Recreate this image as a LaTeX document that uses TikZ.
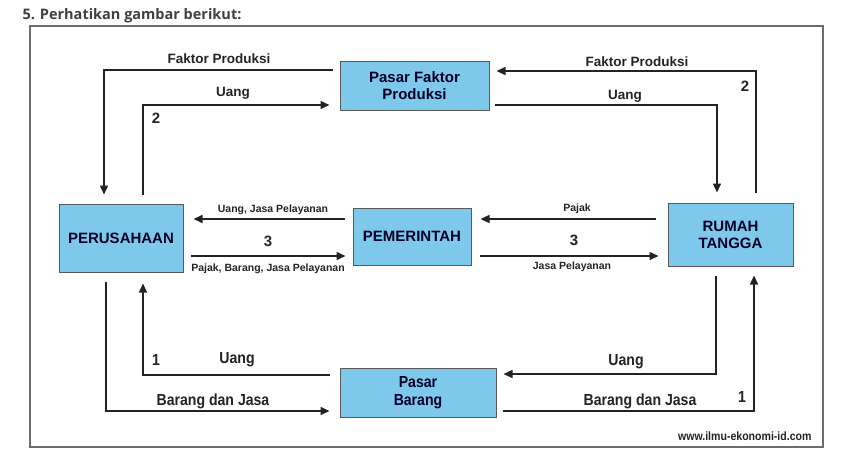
\documentclass[tikz,border=0pt]{standalone}
\usepackage{fontspec}
\setmainfont{Liberation Sans}
\newfontfamily\judul{Open Sans}
\newfontfamily\sempit{Liberation Sans}[FakeStretch=0.88]
\usetikzlibrary{arrows.meta}
\definecolor{biru}{RGB}{125,200,235}
\definecolor{garis}{RGB}{35,35,35}
\tikzset{
  kotak/.style={draw=gray!70!black, fill=biru, line width=1pt, align=center,
    font=\fontsize{15}{17}\selectfont\bfseries, text=black!85!blue},
  panah/.style={draw=garis, line width=1.5pt, -{Triangle[length=9pt,width=8pt]}},
  lbl/.style={font=\fontsize{13.5}{15}\selectfont\bfseries, text=garis},
  lblkecil/.style={font=\fontsize{10.5}{12}\selectfont\bfseries, text=garis},
  lblsempit/.style={font=\sempit\fontsize{16}{18}\selectfont\bfseries, text=garis},
  angka/.style={font=\fontsize{15}{17}\selectfont\bfseries, text=garis}
}

\begin{document}
\begin{tikzpicture}[x=1pt,y=-1pt]
    \useasboundingbox (0,0) rectangle (845,466);
    % judul dan bingkai
    \node[anchor=west, text=black!75, font=\judul\fontsize{14.5}{16}\selectfont\bfseries] (judul) at (19,16) {5. Perhatikan gambar berikut:};
    \draw[gray!85!black, line width=1.3pt] (30,26) rectangle (823,447);

    % kotak
    \node[kotak, minimum width=149, minimum height=49] (pfp) at (414.5,85.5) {Pasar Faktor\\Produksi};
    \node[kotak, minimum width=124, minimum height=68] (per) at (121,238) {PERUSAHAAN};
    \node[kotak, minimum width=118, minimum height=57] (pem) at (412,236.5) {PEMERINTAH};
    \node[kotak, minimum width=125, minimum height=63] (rt) at (730.5,234.5) {RUMAH\\TANGGA};
    \node[kotak, minimum width=156, minimum height=49, font=\sempit\fontsize{16}{18}\selectfont\bfseries] (pb) at (418,392.5) {Pasar\\Barang};

    % pasar faktor produksi
    \draw[panah] ([xshift=-7pt,yshift=15.5pt]pfp.west) -| ([xshift=-17pt,yshift=9pt]per.north);
    \draw[panah] ([xshift=22pt,yshift=9pt]per.north) |- ([xshift=-10pt,yshift=-19.5pt]pfp.west);
    \draw[panah] ([xshift=25.5pt,yshift=10pt]rt.north) |- ([xshift=7pt,yshift=14.5pt]pfp.east);
    \draw[panah] ([xshift=5pt,yshift=-19.5pt]pfp.east) -| ([xshift=-13.5pt,yshift=10pt]rt.north);
    \node[lbl] (fp1) at (219,59) {Faktor Produksi};
    \node[lbl] (u1) at (233,93) {Uang};
    \node[angka] (n2a) at (156,118) {2};
    \node[lbl] (fp2) at (637,62) {Faktor Produksi};
    \node[lbl] (u2) at (625,96) {Uang};
    \node[angka] (n2b) at (745,86) {2};

    % pemerintah
    \draw[panah] ([xshift=-8pt,yshift=17.5pt]pem.west) -- ([xshift=10pt,yshift=19pt]per.east);
    \draw[panah] ([xshift=7pt,yshift=-18pt]per.east) -- ([xshift=-7pt,yshift=-19.5pt]pem.west);
    \draw[panah] ([xshift=-12pt,yshift=15.5pt]rt.west) -- ([xshift=9pt,yshift=17.5pt]pem.east);
    \draw[panah] ([xshift=8pt,yshift=-19.5pt]pem.east) -- ([xshift=-9pt,yshift=-21.5pt]rt.west);
    \node[lblkecil] (ujp) at (273,210) {Uang, Jasa Pelayanan};
    \node[angka] (n3a) at (268,241) {3};
    \node[lblkecil] (pbj) at (268,269) {Pajak, Barang, Jasa Pelayanan};
    \node[lblkecil] (pjk) at (577,209) {Pajak};
    \node[angka] (n3b) at (574,240) {3};
    \node[lblkecil] (jp) at (572,267) {Jasa Pelayanan};

    % pasar barang
    \draw[panah] ([xshift=-10pt,yshift=17.5pt]pb.west) -| ([xshift=22pt,yshift=-11pt]per.south);
    \draw[panah] ([xshift=-15pt,yshift=-9pt]per.south) |- ([xshift=-10pt,yshift=-18.5pt]pb.west);
    \draw[panah] ([xshift=-14.5pt,yshift=-9pt]rt.south) |- ([xshift=7pt,yshift=18.5pt]pb.east);
    \draw[panah] ([xshift=6pt,yshift=-18.5pt]pb.east) -| ([xshift=23.5pt,yshift=-9pt]rt.south);
    \node[lblsempit] (n1a) at (156,360) {1};
    \node[lblsempit] (u3) at (237,360) {Uang};
    \node[lblsempit] (bj1) at (213,401) {Barang dan Jasa};
    \node[lblsempit] (u4) at (626,362) {Uang};
    \node[lblsempit] (bj2) at (640,401) {Barang dan Jasa};
    \node[lblsempit] (n1b) at (742,397) {1};

    \node[anchor=east, font=\sempit\fontsize{12}{14}\selectfont\bfseries, text=garis] (web) at (815,436) {www.ilmu-ekonomi-id.com};
\end{tikzpicture}
\end{document}
